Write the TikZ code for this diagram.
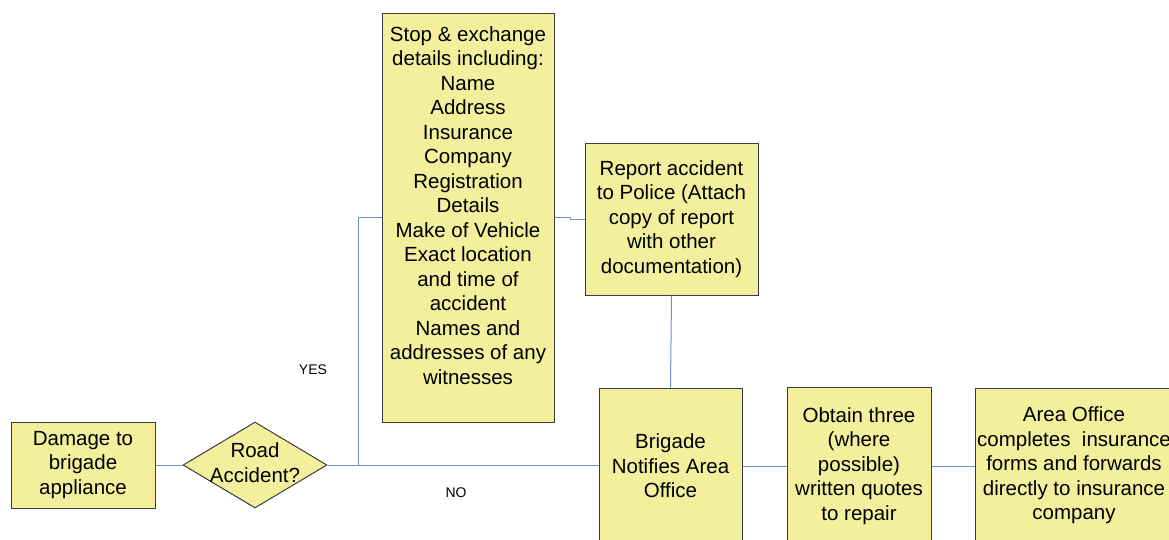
\documentclass[tikz,border=0pt]{standalone}
\usepackage{fontspec}
\setmainfont{Liberation Sans}
\usetikzlibrary{shapes.geometric}
\definecolor{boxfill}{RGB}{243,239,157}
\definecolor{boxline}{RGB}{60,60,60}
\definecolor{conn}{RGB}{110,145,205}
\tikzset{
  box/.style={draw=boxline, fill=boxfill, line width=1pt, align=center, inner sep=0pt,
    font=\fontsize{20.5}{24.5}\selectfont},
  dia/.style={draw=boxline, fill=boxfill, line width=1pt, diamond, inner sep=0pt,
    minimum width=144pt, minimum height=86pt, font=\fontsize{20.5}{24.5}\selectfont},
  wire/.style={draw=conn, line width=1pt},
  lbl/.style={font=\fontsize{14}{16}\selectfont, inner sep=0pt}
}
\begin{document}
\begin{tikzpicture}[x=1pt,y=-1pt]
\useasboundingbox (0,0) rectangle (1169,539);
\node[box, minimum width=144pt, minimum height=86pt] (damage) at (83,465) {Damage to\\brigade\\appliance};
\node[dia] (acc) at (255,465) {\makebox[0pt]{\begin{tabular}{@{}c@{}}Road\\Accident?\end{tabular}}};
\node[box, minimum width=172pt, minimum height=409pt] (stop) at (468,217.5)
  {Stop \& exchange\\details including:\\Name\\Address\\Insurance\\Company\\Registration\\Details\\Make of Vehicle\\Exact location\\and time of\\accident\\Names and\\addresses of any\\witnesses\\\mbox{}};
\node[box, minimum width=173pt, minimum height=152pt] (report) at (671.5,219)
  {Report accident\\to Police (Attach\\copy of report\\with other\\documentation)};
\node[box, minimum width=143pt, minimum height=156pt] (brigade) at (670.5,466)
  {Brigade\\Notifies Area\\Office};
\node[box, minimum width=144pt, minimum height=158pt] (obtain) at (859,466)
  {Obtain three\\(where\\possible)\\written quotes\\to repair};
\node[box, minimum width=198pt, minimum height=156pt] (area) at (1074,466)
  {\makebox[0pt]{\begin{tabular}{@{}c@{}}Area Office\\completes\ \ insurance\\forms and forwards\\directly to insurance\\company\end{tabular}}};
\coordinate (split) at (358,465);
\draw[wire] (damage.east) -- (acc.west);
\draw[wire] (acc.east) -- (acc.east -| brigade.west);
\draw[wire] (split) |- (stop.west);
\draw[wire] (stop.east) -- ++(16,0) |- (report.west);
\draw[wire] (report.south) -- (brigade.north);
\draw[wire] (brigade.east) -- ++(22,0) |- (obtain.west);
\draw[wire] (obtain.east) -- (area.west);
\node[lbl] (yes) at (313,370) {YES};
\node[lbl] (no) at (456,493) {NO};
\end{tikzpicture}
\end{document}
